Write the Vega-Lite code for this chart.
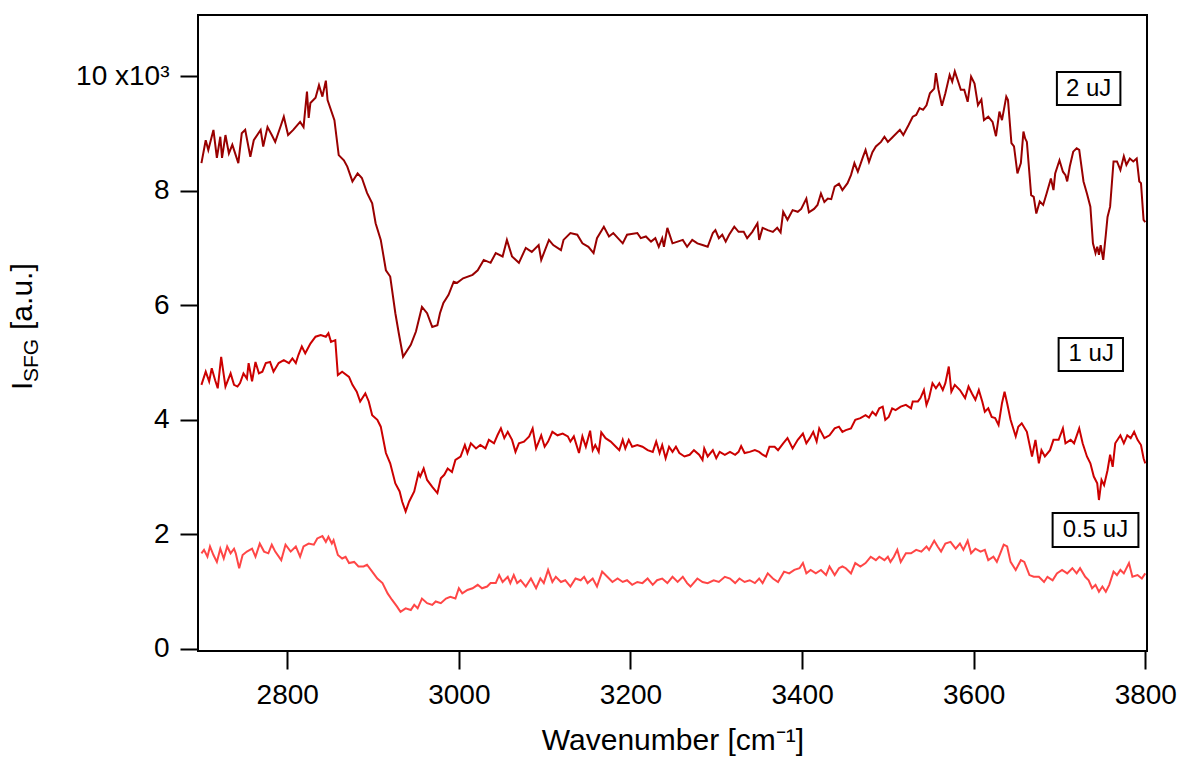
{
"$schema": "https://vega.github.io/schema/vega-lite/v6.json",
"width": 949, "height": 636,
"autosize": {"type": "none"},
"padding": {"left": 198, "top": 15, "right": 38, "bottom": 111},
"background": "white",
"config": {
  "view": {"stroke": "black", "strokeWidth": 2},
  "axis": {"labelFont": "Liberation Sans", "titleFont": "Liberation Sans", "grid": false, "domain": false, "tickColor": "black", "tickWidth": 2, "tickSize": 18, "labelColor": "black", "titleColor": "black", "labelFontSize": 28, "titleFontSize": 30, "titleFontWeight": "normal"},
  "text": {"font": "Liberation Sans", "color": "black"}
},
"datasets": {
"uj2": [
{"w":2700,"i":8480},{"w":2705,"i":8880},{"w":2708,"i":8710},{"w":2714,"i":9060},{"w":2718,"i":8570},{"w":2722,"i":8940},{"w":2724,"i":8570},{"w":2728,"i":8970},{"w":2732,"i":8650},{"w":2736,"i":8800},{"w":2743,"i":8480},{"w":2747,"i":9000},{"w":2751,"i":9060},{"w":2757,"i":8590},{"w":2761,"i":8880},{"w":2769,"i":9060},{"w":2772,"i":8770},{"w":2777,"i":9110},{"w":2782,"i":8970},{"w":2786,"i":8850},{"w":2792,"i":9110},{"w":2796,"i":9290},{"w":2801,"i":8970},{"w":2807,"i":9060},{"w":2815,"i":9200},{"w":2819,"i":9110},{"w":2823,"i":9730},{"w":2825,"i":9270},{"w":2827,"i":9530},{"w":2833,"i":9620},{"w":2837,"i":9840},{"w":2841,"i":9640},{"w":2845,"i":9920},{"w":2847,"i":9580},{"w":2855,"i":9230},{"w":2860,"i":8620},{"w":2866,"i":8530},{"w":2870,"i":8420},{"w":2876,"i":8160},{"w":2882,"i":8300},{"w":2887,"i":8220},{"w":2893,"i":7960},{"w":2899,"i":7780},{"w":2903,"i":7430},{"w":2909,"i":7140},{"w":2915,"i":6610},{"w":2920,"i":6500},{"w":2926,"i":5860},{"w":2930,"i":5510},{"w":2935,"i":5100},{"w":2944,"i":5310},{"w":2950,"i":5540},{"w":2957,"i":5970},{"w":2963,"i":5860},{"w":2969,"i":5620},{"w":2975,"i":5650},{"w":2978,"i":5860},{"w":2982,"i":6040},{"w":2988,"i":6180},{"w":2994,"i":6410},{"w":2998,"i":6390},{"w":3005,"i":6470},{"w":3016,"i":6530},{"w":3022,"i":6610},{"w":3029,"i":6790},{"w":3037,"i":6740},{"w":3043,"i":6910},{"w":3051,"i":6850},{"w":3056,"i":7140},{"w":3062,"i":6850},{"w":3070,"i":6740},{"w":3078,"i":7000},{"w":3085,"i":6930},{"w":3093,"i":7050},{"w":3096,"i":6790},{"w":3105,"i":7140},{"w":3110,"i":7050},{"w":3119,"i":6960},{"w":3122,"i":7140},{"w":3130,"i":7260},{"w":3138,"i":7230},{"w":3144,"i":7080},{"w":3151,"i":7020},{"w":3157,"i":6910},{"w":3161,"i":7170},{"w":3169,"i":7370},{"w":3175,"i":7200},{"w":3180,"i":7260},{"w":3191,"i":7080},{"w":3196,"i":7230},{"w":3208,"i":7260},{"w":3212,"i":7170},{"w":3218,"i":7200},{"w":3224,"i":7110},{"w":3229,"i":7170},{"w":3233,"i":7020},{"w":3237,"i":7170},{"w":3239,"i":7020},{"w":3243,"i":7350},{"w":3249,"i":7080},{"w":3255,"i":7110},{"w":3261,"i":7140},{"w":3266,"i":7020},{"w":3272,"i":7140},{"w":3278,"i":7080},{"w":3284,"i":7050},{"w":3290,"i":7020},{"w":3296,"i":7260},{"w":3299,"i":7310},{"w":3303,"i":7170},{"w":3307,"i":7230},{"w":3311,"i":7110},{"w":3315,"i":7230},{"w":3321,"i":7370},{"w":3326,"i":7280},{"w":3332,"i":7280},{"w":3336,"i":7170},{"w":3342,"i":7280},{"w":3348,"i":7430},{"w":3350,"i":7140},{"w":3354,"i":7350},{"w":3360,"i":7310},{"w":3366,"i":7280},{"w":3371,"i":7350},{"w":3375,"i":7270},{"w":3378,"i":7630},{"w":3383,"i":7490},{"w":3389,"i":7660},{"w":3395,"i":7630},{"w":3399,"i":7680},{"w":3405,"i":7860},{"w":3408,"i":7620},{"w":3414,"i":7680},{"w":3418,"i":7750},{"w":3422,"i":7950},{"w":3426,"i":7800},{"w":3430,"i":7860},{"w":3434,"i":7850},{"w":3438,"i":8070},{"w":3443,"i":8120},{"w":3447,"i":8010},{"w":3453,"i":8130},{"w":3457,"i":8270},{"w":3461,"i":8480},{"w":3465,"i":8330},{"w":3471,"i":8590},{"w":3474,"i":8710},{"w":3478,"i":8500},{"w":3482,"i":8670},{"w":3486,"i":8770},{"w":3492,"i":8850},{"w":3496,"i":8940},{"w":3500,"i":8850},{"w":3506,"i":8940},{"w":3514,"i":9060},{"w":3518,"i":8970},{"w":3524,"i":9140},{"w":3529,"i":9290},{"w":3533,"i":9320},{"w":3537,"i":9440},{"w":3541,"i":9410},{"w":3545,"i":9490},{"w":3549,"i":9700},{"w":3554,"i":9780},{"w":3556,"i":10050},{"w":3559,"i":9760},{"w":3563,"i":9480},{"w":3567,"i":9700},{"w":3572,"i":10020},{"w":3575,"i":9900},{"w":3578,"i":10080},{"w":3582,"i":9900},{"w":3585,"i":9760},{"w":3589,"i":9760},{"w":3593,"i":9550},{"w":3597,"i":9990},{"w":3601,"i":9870},{"w":3605,"i":9490},{"w":3609,"i":9590},{"w":3612,"i":9230},{"w":3617,"i":9290},{"w":3622,"i":9200},{"w":3626,"i":8950},{"w":3630,"i":9380},{"w":3633,"i":9230},{"w":3638,"i":9640},{"w":3640,"i":9580},{"w":3644,"i":8830},{"w":3647,"i":8770},{"w":3651,"i":8300},{"w":3655,"i":8480},{"w":3658,"i":9030},{"w":3660,"i":8910},{"w":3662,"i":8850},{"w":3667,"i":7920},{"w":3670,"i":7890},{"w":3673,"i":7600},{"w":3677,"i":7810},{"w":3681,"i":7750},{"w":3685,"i":7950},{"w":3690,"i":8210},{"w":3693,"i":8010},{"w":3695,"i":8300},{"w":3700,"i":8530},{"w":3704,"i":8330},{"w":3707,"i":8270},{"w":3709,"i":8160},{"w":3712,"i":8420},{"w":3716,"i":8680},{"w":3720,"i":8740},{"w":3723,"i":8710},{"w":3728,"i":8160},{"w":3732,"i":7950},{"w":3736,"i":7720},{"w":3739,"i":7080},{"w":3742,"i":6910},{"w":3744,"i":7020},{"w":3746,"i":6880},{"w":3748,"i":7050},{"w":3751,"i":6790},{"w":3754,"i":7230},{"w":3756,"i":7540},{"w":3759,"i":7720},{"w":3763,"i":8510},{"w":3767,"i":8510},{"w":3771,"i":8360},{"w":3775,"i":8600},{"w":3778,"i":8450},{"w":3782,"i":8560},{"w":3786,"i":8510},{"w":3790,"i":8560},{"w":3793,"i":8160},{"w":3795,"i":8130},{"w":3798,"i":7490},{"w":3800,"i":7450}
],
"uj1": [
{"w":2700,"i":4610},{"w":2705,"i":4840},{"w":2709,"i":4670},{"w":2712,"i":4900},{"w":2716,"i":4690},{"w":2719,"i":4550},{"w":2723,"i":5100},{"w":2728,"i":4580},{"w":2734,"i":4810},{"w":2738,"i":4610},{"w":2742,"i":4580},{"w":2745,"i":4640},{"w":2749,"i":4810},{"w":2753,"i":4720},{"w":2755,"i":4990},{"w":2759,"i":4670},{"w":2763,"i":5010},{"w":2767,"i":4810},{"w":2771,"i":4840},{"w":2775,"i":4990},{"w":2780,"i":5010},{"w":2784,"i":4840},{"w":2790,"i":4990},{"w":2796,"i":5040},{"w":2802,"i":4990},{"w":2806,"i":5070},{"w":2810,"i":4990},{"w":2813,"i":5130},{"w":2817,"i":5280},{"w":2821,"i":5160},{"w":2827,"i":5330},{"w":2833,"i":5450},{"w":2839,"i":5480},{"w":2845,"i":5450},{"w":2848,"i":5510},{"w":2851,"i":5360},{"w":2856,"i":5390},{"w":2859,"i":4780},{"w":2864,"i":4840},{"w":2872,"i":4750},{"w":2876,"i":4610},{"w":2881,"i":4490},{"w":2885,"i":4320},{"w":2891,"i":4460},{"w":2895,"i":4320},{"w":2899,"i":4080},{"w":2905,"i":4000},{"w":2909,"i":3880},{"w":2915,"i":3420},{"w":2920,"i":3240},{"w":2926,"i":2890},{"w":2931,"i":2750},{"w":2934,"i":2570},{"w":2938,"i":2400},{"w":2942,"i":2570},{"w":2948,"i":2750},{"w":2953,"i":3070},{"w":2955,"i":3010},{"w":2959,"i":3150},{"w":2963,"i":2950},{"w":2969,"i":2830},{"w":2975,"i":2720},{"w":2979,"i":2980},{"w":2983,"i":3040},{"w":2987,"i":3150},{"w":2992,"i":3090},{"w":2996,"i":3300},{"w":3002,"i":3360},{"w":3007,"i":3560},{"w":3010,"i":3420},{"w":3014,"i":3590},{"w":3020,"i":3500},{"w":3025,"i":3560},{"w":3031,"i":3500},{"w":3035,"i":3650},{"w":3041,"i":3590},{"w":3045,"i":3730},{"w":3049,"i":3850},{"w":3053,"i":3680},{"w":3057,"i":3790},{"w":3062,"i":3650},{"w":3066,"i":3440},{"w":3070,"i":3590},{"w":3076,"i":3620},{"w":3078,"i":3650},{"w":3082,"i":3710},{"w":3086,"i":3850},{"w":3090,"i":3500},{"w":3094,"i":3650},{"w":3096,"i":3730},{"w":3100,"i":3530},{"w":3104,"i":3620},{"w":3109,"i":3790},{"w":3115,"i":3730},{"w":3121,"i":3760},{"w":3127,"i":3710},{"w":3130,"i":3620},{"w":3134,"i":3710},{"w":3140,"i":3420},{"w":3144,"i":3710},{"w":3148,"i":3530},{"w":3153,"i":3810},{"w":3156,"i":3470},{"w":3159,"i":3560},{"w":3163,"i":3440},{"w":3166,"i":3780},{"w":3171,"i":3680},{"w":3177,"i":3620},{"w":3183,"i":3530},{"w":3187,"i":3470},{"w":3191,"i":3650},{"w":3194,"i":3500},{"w":3198,"i":3650},{"w":3202,"i":3530},{"w":3208,"i":3560},{"w":3214,"i":3530},{"w":3220,"i":3470},{"w":3226,"i":3440},{"w":3230,"i":3620},{"w":3234,"i":3420},{"w":3237,"i":3560},{"w":3241,"i":3330},{"w":3245,"i":3530},{"w":3249,"i":3440},{"w":3253,"i":3530},{"w":3257,"i":3420},{"w":3263,"i":3360},{"w":3269,"i":3390},{"w":3274,"i":3470},{"w":3280,"i":3390},{"w":3284,"i":3300},{"w":3286,"i":3500},{"w":3290,"i":3360},{"w":3296,"i":3470},{"w":3300,"i":3330},{"w":3304,"i":3440},{"w":3310,"i":3390},{"w":3316,"i":3440},{"w":3322,"i":3390},{"w":3326,"i":3440},{"w":3329,"i":3540},{"w":3333,"i":3420},{"w":3339,"i":3440},{"w":3345,"i":3470},{"w":3350,"i":3440},{"w":3354,"i":3390},{"w":3358,"i":3360},{"w":3362,"i":3530},{"w":3368,"i":3530},{"w":3372,"i":3470},{"w":3378,"i":3590},{"w":3383,"i":3680},{"w":3389,"i":3500},{"w":3395,"i":3650},{"w":3401,"i":3760},{"w":3405,"i":3590},{"w":3409,"i":3680},{"w":3413,"i":3790},{"w":3417,"i":3620},{"w":3420,"i":3850},{"w":3426,"i":3680},{"w":3432,"i":3730},{"w":3438,"i":3850},{"w":3443,"i":3880},{"w":3447,"i":3790},{"w":3451,"i":3820},{"w":3457,"i":3850},{"w":3462,"i":4000},{"w":3468,"i":4030},{"w":3474,"i":4080},{"w":3478,"i":4040},{"w":3482,"i":4140},{"w":3486,"i":4080},{"w":3490,"i":4200},{"w":3494,"i":4230},{"w":3497,"i":4000},{"w":3501,"i":4050},{"w":3505,"i":4200},{"w":3509,"i":4170},{"w":3515,"i":4230},{"w":3521,"i":4260},{"w":3527,"i":4200},{"w":3529,"i":4320},{"w":3535,"i":4320},{"w":3538,"i":4380},{"w":3542,"i":4520},{"w":3545,"i":4260},{"w":3548,"i":4380},{"w":3552,"i":4640},{"w":3556,"i":4550},{"w":3560,"i":4640},{"w":3564,"i":4520},{"w":3567,"i":4640},{"w":3571,"i":4930},{"w":3574,"i":4490},{"w":3578,"i":4610},{"w":3584,"i":4520},{"w":3590,"i":4380},{"w":3594,"i":4580},{"w":3598,"i":4460},{"w":3602,"i":4350},{"w":3606,"i":4520},{"w":3610,"i":4320},{"w":3613,"i":4140},{"w":3617,"i":4200},{"w":3621,"i":4050},{"w":3625,"i":4030},{"w":3629,"i":3910},{"w":3633,"i":4290},{"w":3636,"i":4490},{"w":3639,"i":4290},{"w":3643,"i":4000},{"w":3649,"i":3710},{"w":3652,"i":3880},{"w":3656,"i":3940},{"w":3662,"i":3790},{"w":3668,"i":3360},{"w":3672,"i":3650},{"w":3676,"i":3240},{"w":3679,"i":3470},{"w":3683,"i":3360},{"w":3689,"i":3470},{"w":3693,"i":3650},{"w":3699,"i":3650},{"w":3704,"i":3850},{"w":3707,"i":3590},{"w":3713,"i":3650},{"w":3717,"i":3590},{"w":3723,"i":3850},{"w":3727,"i":3590},{"w":3732,"i":3360},{"w":3736,"i":3240},{"w":3740,"i":3010},{"w":3744,"i":2890},{"w":3746,"i":2600},{"w":3749,"i":2950},{"w":3752,"i":2860},{"w":3756,"i":3120},{"w":3759,"i":3390},{"w":3762,"i":3180},{"w":3765,"i":3590},{"w":3771,"i":3730},{"w":3775,"i":3590},{"w":3779,"i":3730},{"w":3783,"i":3680},{"w":3787,"i":3790},{"w":3791,"i":3650},{"w":3795,"i":3560},{"w":3798,"i":3330},{"w":3800,"i":3240}
],
"uj05": [
{"w":2700,"i":1670},{"w":2703,"i":1730},{"w":2707,"i":1610},{"w":2710,"i":1790},{"w":2714,"i":1640},{"w":2718,"i":1520},{"w":2722,"i":1750},{"w":2726,"i":1580},{"w":2730,"i":1790},{"w":2734,"i":1670},{"w":2738,"i":1750},{"w":2740,"i":1670},{"w":2744,"i":1410},{"w":2748,"i":1640},{"w":2753,"i":1700},{"w":2759,"i":1750},{"w":2763,"i":1610},{"w":2768,"i":1840},{"w":2773,"i":1700},{"w":2778,"i":1670},{"w":2782,"i":1820},{"w":2786,"i":1700},{"w":2793,"i":1550},{"w":2798,"i":1820},{"w":2804,"i":1700},{"w":2810,"i":1790},{"w":2815,"i":1610},{"w":2819,"i":1790},{"w":2825,"i":1840},{"w":2831,"i":1820},{"w":2835,"i":1930},{"w":2841,"i":1970},{"w":2845,"i":1870},{"w":2848,"i":1960},{"w":2852,"i":1840},{"w":2854,"i":1900},{"w":2859,"i":1640},{"w":2864,"i":1580},{"w":2868,"i":1610},{"w":2872,"i":1500},{"w":2878,"i":1520},{"w":2883,"i":1440},{"w":2889,"i":1440},{"w":2893,"i":1470},{"w":2899,"i":1350},{"w":2905,"i":1230},{"w":2911,"i":1150},{"w":2917,"i":970},{"w":2922,"i":860},{"w":2928,"i":740},{"w":2932,"i":650},{"w":2938,"i":710},{"w":2944,"i":680},{"w":2948,"i":770},{"w":2952,"i":710},{"w":2957,"i":880},{"w":2963,"i":800},{"w":2969,"i":770},{"w":2973,"i":830},{"w":2979,"i":800},{"w":2985,"i":880},{"w":2990,"i":910},{"w":2996,"i":880},{"w":3000,"i":1060},{"w":3004,"i":970},{"w":3010,"i":1030},{"w":3016,"i":1060},{"w":3022,"i":1120},{"w":3027,"i":1060},{"w":3033,"i":1090},{"w":3037,"i":1150},{"w":3043,"i":1150},{"w":3047,"i":1290},{"w":3051,"i":1170},{"w":3057,"i":1260},{"w":3060,"i":1150},{"w":3064,"i":1290},{"w":3068,"i":1150},{"w":3072,"i":1200},{"w":3078,"i":1090},{"w":3084,"i":1230},{"w":3090,"i":1060},{"w":3095,"i":1230},{"w":3099,"i":1150},{"w":3104,"i":1380},{"w":3109,"i":1170},{"w":3113,"i":1260},{"w":3119,"i":1170},{"w":3124,"i":1200},{"w":3130,"i":1090},{"w":3136,"i":1230},{"w":3142,"i":1200},{"w":3146,"i":1260},{"w":3150,"i":1150},{"w":3156,"i":1230},{"w":3161,"i":1090},{"w":3167,"i":1350},{"w":3173,"i":1260},{"w":3179,"i":1170},{"w":3185,"i":1230},{"w":3191,"i":1170},{"w":3196,"i":1200},{"w":3202,"i":1120},{"w":3208,"i":1170},{"w":3214,"i":1150},{"w":3220,"i":1230},{"w":3226,"i":1120},{"w":3231,"i":1200},{"w":3237,"i":1230},{"w":3243,"i":1150},{"w":3249,"i":1260},{"w":3255,"i":1170},{"w":3261,"i":1260},{"w":3266,"i":1150},{"w":3270,"i":1090},{"w":3278,"i":1230},{"w":3284,"i":1170},{"w":3290,"i":1150},{"w":3297,"i":1200},{"w":3303,"i":1170},{"w":3310,"i":1260},{"w":3316,"i":1230},{"w":3322,"i":1150},{"w":3327,"i":1230},{"w":3333,"i":1170},{"w":3339,"i":1200},{"w":3345,"i":1150},{"w":3350,"i":1230},{"w":3354,"i":1150},{"w":3360,"i":1320},{"w":3366,"i":1230},{"w":3372,"i":1170},{"w":3379,"i":1350},{"w":3385,"i":1320},{"w":3391,"i":1380},{"w":3397,"i":1410},{"w":3401,"i":1500},{"w":3405,"i":1320},{"w":3410,"i":1380},{"w":3416,"i":1320},{"w":3422,"i":1380},{"w":3428,"i":1290},{"w":3432,"i":1440},{"w":3438,"i":1290},{"w":3443,"i":1410},{"w":3447,"i":1440},{"w":3451,"i":1410},{"w":3457,"i":1320},{"w":3462,"i":1500},{"w":3468,"i":1440},{"w":3474,"i":1500},{"w":3480,"i":1610},{"w":3486,"i":1550},{"w":3490,"i":1610},{"w":3496,"i":1550},{"w":3500,"i":1610},{"w":3503,"i":1520},{"w":3507,"i":1610},{"w":3511,"i":1730},{"w":3515,"i":1520},{"w":3521,"i":1670},{"w":3527,"i":1670},{"w":3533,"i":1730},{"w":3539,"i":1700},{"w":3545,"i":1790},{"w":3548,"i":1730},{"w":3554,"i":1890},{"w":3558,"i":1790},{"w":3562,"i":1700},{"w":3567,"i":1840},{"w":3573,"i":1870},{"w":3579,"i":1750},{"w":3584,"i":1840},{"w":3588,"i":1730},{"w":3593,"i":1890},{"w":3597,"i":1670},{"w":3602,"i":1750},{"w":3608,"i":1700},{"w":3613,"i":1730},{"w":3617,"i":1550},{"w":3623,"i":1610},{"w":3627,"i":1520},{"w":3631,"i":1670},{"w":3635,"i":1820},{"w":3639,"i":1790},{"w":3643,"i":1520},{"w":3649,"i":1380},{"w":3655,"i":1550},{"w":3659,"i":1520},{"w":3665,"i":1290},{"w":3670,"i":1260},{"w":3676,"i":1260},{"w":3682,"i":1170},{"w":3686,"i":1260},{"w":3692,"i":1200},{"w":3697,"i":1320},{"w":3703,"i":1380},{"w":3709,"i":1320},{"w":3715,"i":1410},{"w":3720,"i":1320},{"w":3724,"i":1410},{"w":3730,"i":1260},{"w":3734,"i":1200},{"w":3738,"i":1060},{"w":3742,"i":1120},{"w":3746,"i":1000},{"w":3750,"i":1090},{"w":3754,"i":1000},{"w":3758,"i":1120},{"w":3763,"i":1350},{"w":3767,"i":1290},{"w":3771,"i":1380},{"w":3775,"i":1320},{"w":3781,"i":1500},{"w":3785,"i":1260},{"w":3791,"i":1290},{"w":3796,"i":1230},{"w":3800,"i":1320}
],
"labels": [
{"t":"2 uJ","w":3734,"i":9782,"w1":3697,"w2":3771,"i1":10070,"i2":9494},
{"t":"1 uJ","w":3737,"i":5140,"w1":3699,"w2":3774,"i1":5428,"i2":4852},
{"t":"0.5 uJ","w":3742,"i":2077,"w1":3692,"w2":3792,"i1":2374,"i2":1781}
],
"one": [{}]
},
"layer": [
{
 "data": {"name": "uj2"},
 "mark": {"type": "line", "color": "#990000", "strokeWidth": 2},
 "encoding": {
  "x": {"field": "w", "type": "quantitative", "title": "Wavenumber [cm⁻¹]", "scale": {"domain": [2696, 3802], "nice": false, "zero": false},
        "axis": {"values": [2800, 3000, 3200, 3400, 3600, 3800], "format": "d", "labelPadding": 12, "labelOverlap": false, "labelFlush": false, "titlePadding": 16}},
  "y": {"field": "i", "type": "quantitative", "title": null, "scale": {"domain": [-35, 11065], "nice": false, "zero": false},
        "axis": {"values": [0, 2000, 4000, 6000, 8000, 10000], "labelExpr": "datum.value == 10000 ? '10 x10³' : format(datum.value / 1000, 'd')", "labelPadding": 11, "labelOverlap": false, "labelFlush": false}}
 }
},
{
 "data": {"name": "uj1"},
 "mark": {"type": "line", "color": "#cc0000", "strokeWidth": 2},
 "encoding": {
  "x": {"field": "w", "type": "quantitative", "title": "Wavenumber [cm⁻¹]"},
  "y": {"field": "i", "type": "quantitative", "title": null}
 }
},
{
 "data": {"name": "uj05"},
 "mark": {"type": "line", "color": "#ff4646", "strokeWidth": 2},
 "encoding": {
  "x": {"field": "w", "type": "quantitative", "title": "Wavenumber [cm⁻¹]"},
  "y": {"field": "i", "type": "quantitative", "title": null}
 }
},
{
 "data": {"name": "labels"},
 "mark": {"type": "rect", "fill": "white", "stroke": "black", "strokeWidth": 2},
 "encoding": {
  "x": {"field": "w1", "type": "quantitative", "title": "Wavenumber [cm⁻¹]"},
  "x2": {"field": "w2"},
  "y": {"field": "i1", "type": "quantitative", "title": null},
  "y2": {"field": "i2"}
 }
},
{
 "data": {"name": "labels"},
 "mark": {"type": "text", "fontSize": 24, "align": "center", "baseline": "middle", "color": "black"},
 "encoding": {
  "x": {"field": "w", "type": "quantitative", "title": "Wavenumber [cm⁻¹]"},
  "y": {"field": "i", "type": "quantitative", "title": null},
  "text": {"field": "t"}
 }
},
{
 "data": {"name": "one"},
 "mark": {"type": "text", "text": "I", "fontSize": 30, "angle": 270, "align": "left", "baseline": "alphabetic", "color": "black"},
 "encoding": {"x": {"datum": 2502, "type": "quantitative", "title": "Wavenumber [cm⁻¹]"}, "y": {"datum": 4520, "type": "quantitative", "title": null}}
},
{
 "data": {"name": "one"},
 "mark": {"type": "text", "text": "SFG", "fontSize": 21, "angle": 270, "align": "left", "baseline": "alphabetic", "color": "black"},
 "encoding": {"x": {"datum": 2509, "type": "quantitative", "title": "Wavenumber [cm⁻¹]"}, "y": {"datum": 4660, "type": "quantitative", "title": null}}
},
{
 "data": {"name": "one"},
 "mark": {"type": "text", "text": "[a.u.]", "fontSize": 30, "angle": 270, "align": "left", "baseline": "alphabetic", "color": "black"},
 "encoding": {"x": {"datum": 2502, "type": "quantitative", "title": "Wavenumber [cm⁻¹]"}, "y": {"datum": 5568, "type": "quantitative", "title": null}}
}
]
}
